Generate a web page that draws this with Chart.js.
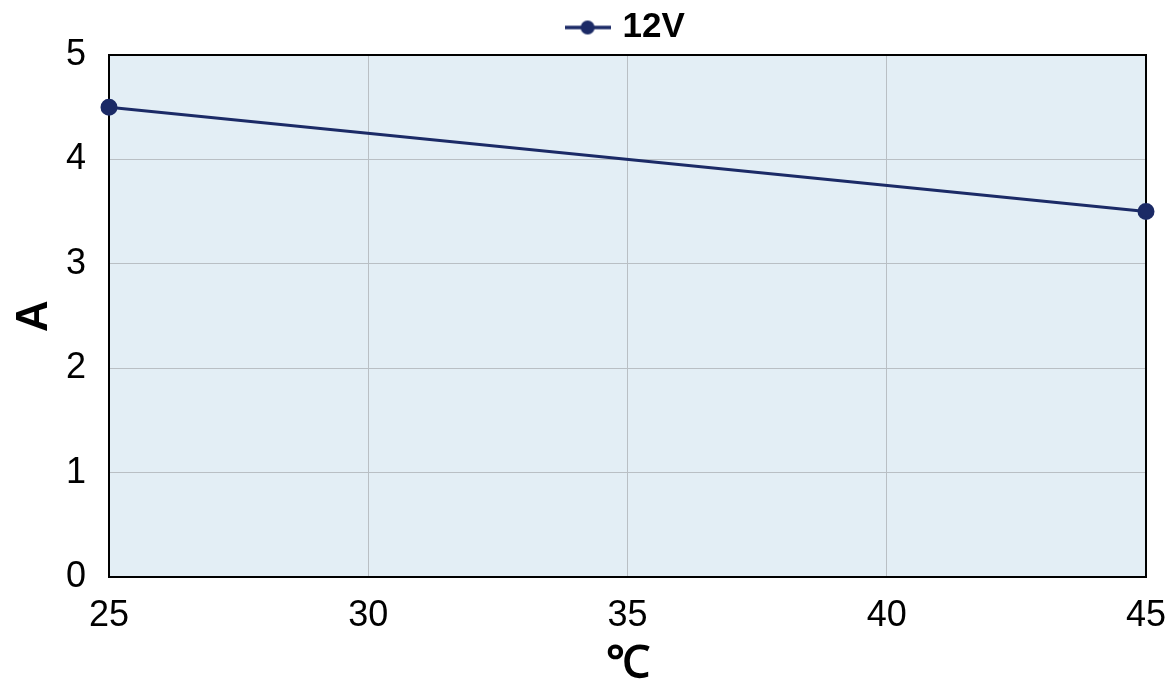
<!DOCTYPE html>
<html lang="en">
<head>
    <meta charset="utf-8">
    <title>12V current vs temperature</title>
    <script src="https://cdn.jsdelivr.net/npm/chart.js@4.4.0/dist/chart.umd.min.js"></script>
    <style>
        html, body { margin: 0; padding: 0; background: #fff; }
        #wrap { width: 1176px; height: 686px; }
    </style>
</head>
<body>
    <div id="wrap"><canvas id="chart"></canvas></div>
    <script>
        const seriesName = '12V';
        const temps = [25, 45];
        const amps = [4.5, 3.5];
        const xTicks = [25, 30, 35, 40, 45];
        const yTicks = [0, 1, 2, 3, 4, 5];

        const navy = '#1b2a66';
        Chart.defaults.font.family = '"Liberation Sans", Arial, sans-serif';
        Chart.defaults.color = '#000';

        // legend marker: short line with a dot in the middle
        const marker = document.createElement('canvas');
        marker.width = 46; marker.height = 16;
        const mctx = marker.getContext('2d');
        mctx.strokeStyle = navy; mctx.lineWidth = 3.5;
        mctx.beginPath(); mctx.moveTo(0, 8); mctx.lineTo(46, 8); mctx.stroke();
        mctx.fillStyle = navy;
        mctx.beginPath(); mctx.arc(23, 8, 7, 0, Math.PI * 2); mctx.fill();

        const plotBg = {
            id: 'plotBg',
            afterLayout(chart) {
                // centre the legend over the plot area rather than the canvas
                const a = chart.chartArea, lg = chart.legend;
                const d = (a.left + a.right) / 2 - (lg.left + lg.right) / 2;
                lg.left += d; lg.right += d;
            },
            beforeDraw(chart) {
                const a = chart.chartArea, c = chart.ctx;
                c.save();
                c.fillStyle = '#e3eef5';
                c.fillRect(a.left, a.top, a.right - a.left, a.bottom - a.top);
                c.restore();
            },
            beforeDatasetsDraw(chart) {
                const a = chart.chartArea, c = chart.ctx;
                c.save();
                c.strokeStyle = '#000';
                c.lineWidth = 2;
                c.strokeRect(a.left, a.top, a.right - a.left, a.bottom - a.top);
                c.restore();
            }
        };

        new Chart(document.getElementById('chart'), {
            type: 'scatter',
            data: {
                datasets: [{
                    label: seriesName,
                    data: temps.map((t, i) => ({ x: t, y: amps[i] })),
                    showLine: true,
                    borderColor: navy,
                    backgroundColor: navy,
                    borderWidth: 3,
                    pointRadius: 7,
                    pointHoverRadius: 7,
                    pointStyle: 'circle',
                    clip: false
                }]
            },
            options: {
                responsive: true,
                maintainAspectRatio: false,
                animation: false,
                layout: { padding: { top: 2, right: 0, bottom: 0, left: 8 } },
                plugins: {
                    tooltip: { enabled: false },
                    legend: {
                        labels: {
                            usePointStyle: true,
                            pointStyle: marker,
                            font: { size: 35, weight: 'bold' },
                            padding: 8,
                            generateLabels(chart) {
                                return [{ text: seriesName, pointStyle: marker, fillStyle: navy, strokeStyle: navy, lineWidth: 0, datasetIndex: 0 }];
                            }
                        }
                    }
                },
                scales: {
                    x: {
                        type: 'linear',
                        min: 25, max: 45,
                        afterBuildTicks(axis) { axis.ticks = xTicks.map(v => ({ value: v })); },
                        afterFit(axis) { axis.height = 109; axis.paddingRight = 30; axis.paddingLeft = 0; },
                        grid: { color: '#b9bfc4', drawTicks: false, lineWidth: 1 },
                        border: { display: false },
                        ticks: { font: { size: 36 }, padding: 17, maxRotation: 0 },
                        title: { display: true, text: '℃', font: { size: 44, weight: 'bold' }, padding: { top: 0, bottom: -5 } }
                    },
                    y: {
                        min: 0, max: 5,
                        afterBuildTicks(axis) { axis.ticks = yTicks.map(v => ({ value: v })); },
                        afterFit(axis) { axis.width = 101; },
                        grid: { color: '#b9bfc4', drawTicks: false, lineWidth: 1 },
                        border: { display: false },
                        ticks: { font: { size: 36 }, padding: 23 },
                        title: { display: true, text: 'A', font: { size: 44, weight: 'bold' }, padding: { top: 0, bottom: 0 } }
                    }
                }
            },
            plugins: [plotBg]
        });
    </script>
</body>
</html>
